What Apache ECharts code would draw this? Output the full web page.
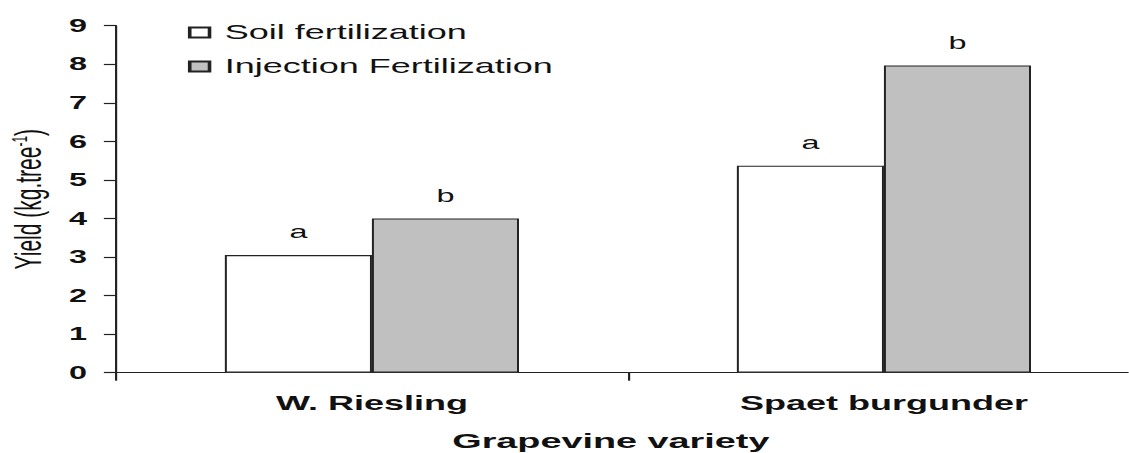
<!DOCTYPE html>
<html>
<head>
<meta charset="utf-8">
<script src="https://cdn.jsdelivr.net/npm/echarts@6/dist/echarts.min.js"></script>
<style>
  html, body { margin: 0; padding: 0; background: #fff; overflow: hidden; }
  #wrap { width: 1129px; height: 453px; overflow: hidden; position: relative; }
  #chart { width: 627.2px; height: 453px; transform: scaleX(1.8); transform-origin: 0 0; }
</style>
</head>
<body>
<div id="wrap"><div id="chart"></div></div>
<script>
// ---- data ----
const categories = ['W. Riesling', 'Spaet burgunder'];
const seriesNames = ['Soil fertilization', 'Injection Fertilization'];
const soilValues = [3.05, 5.37];
const injectionValues = [4.0, 7.97];
const soilLetters = ['a', 'a'];
const injectionLetters = ['b', 'b'];
const yMin = 0, yMax = 9, yStep = 1;

const textColor = '#111';
const chart = echarts.init(document.getElementById('chart'), null, { renderer: 'svg' });

function letterLabel(letters) {
  return {
    show: true,
    position: 'top',
    distance: 14,
    color: textColor,
    fontFamily: 'Liberation Sans',
    fontSize: 18,
    formatter: p => letters[p.dataIndex]
  };
}

chart.setOption({
  backgroundColor: '#fff',
  animation: false,
  grid: { left: 64.4, top: 25.7, width: 568.9, height: 347, containLabel: false, outerBoundsMode: 'none' },
  legend: {
    orient: 'vertical',
    left: 99.4,
    top: 17.5,
    itemWidth: 11,
    itemHeight: 10,
    itemGap: 14,
    icon: 'rect',
    data: seriesNames,
    textStyle: { color: textColor, fontFamily: 'Liberation Sans', fontSize: 20, padding: [0, 0, 0, 3.5] }
  },
  xAxis: {
    type: 'category',
    data: categories,
    name: 'Grapevine variety',
    nameLocation: 'middle',
    nameGap: 57,
    nameTextStyle: { color: textColor, fontFamily: 'Liberation Sans', fontWeight: 'bold', fontSize: 21, padding: [0, 19, 0, 0] },
    axisLine: { lineStyle: { color: '#222', width: 1.2 } },
    axisTick: { show: true, length: 8, lineStyle: { color: '#222', width: 1.2 } },
    axisLabel: { color: textColor, fontFamily: 'Liberation Sans', fontWeight: 'bold', fontSize: 20, margin: 20 }
  },
  yAxis: {
    type: 'value',
    min: yMin, max: yMax, interval: yStep,
    name: 'Yield (kg.tree{sup|-1})',
    nameLocation: 'middle',
    nameGap: 38.7,
    nameTextStyle: {
      color: textColor, fontFamily: 'Liberation Sans', fontSize: 21,
      rich: { sup: { fontSize: 12, verticalAlign: 'top', color: textColor, fontFamily: 'Liberation Sans' } }
    },
    splitLine: { show: false },
    axisLine: { show: true, lineStyle: { color: '#222', width: 1.2 } },
    axisTick: { show: true, length: 6.7, lineStyle: { color: '#222', width: 1.2 } },
    axisLabel: { color: textColor, fontFamily: 'Liberation Sans', fontWeight: 'bold', fontSize: 18, margin: 16 }
  },
  series: [
    {
      name: seriesNames[0],
      type: 'bar',
      data: soilValues,
      barWidth: 81.7,
      barGap: '0%',
      itemStyle: { color: '#ffffff', borderColor: '#222', borderWidth: 1.1 },
      label: letterLabel(soilLetters)
    },
    {
      name: seriesNames[1],
      type: 'bar',
      data: injectionValues,
      barWidth: 81.7,
      barGap: '0%',
      itemStyle: { color: '#c0c0c0', borderColor: '#222', borderWidth: 1.1 },
      label: letterLabel(injectionLetters)
    }
  ]
});
</script>
</body>
</html>
